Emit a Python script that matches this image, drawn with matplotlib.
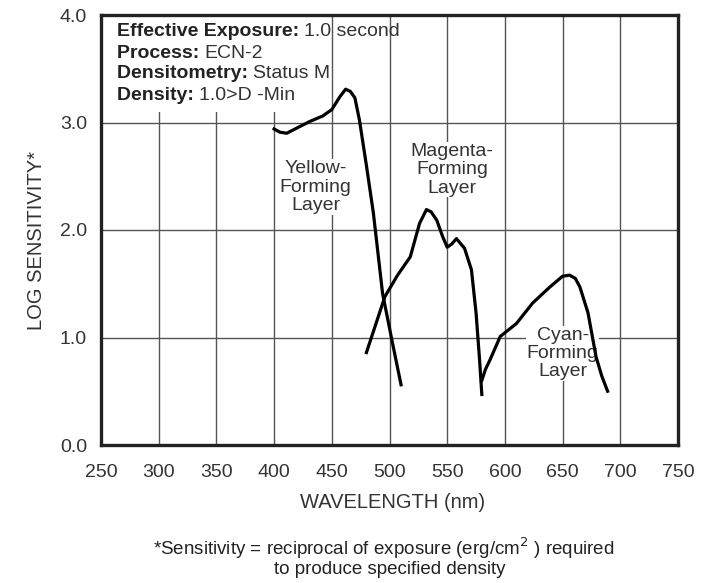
import matplotlib.pyplot as plt
from matplotlib.patches import Rectangle

plt.rcParams['font.family'] = ['Liberation Sans', 'DejaVu Sans']

# --- DATA ---
yellow_nm = [400, 405, 411, 420, 431, 442, 450, 457, 462, 466, 470, 474, 480, 486, 494, 502, 510]
yellow_log = [2.94, 2.91, 2.90, 2.95, 3.01, 3.06, 3.12, 3.24, 3.31, 3.29, 3.23, 3.02, 2.60, 2.16, 1.41, 0.98, 0.56]

magenta_nm = [480, 488, 496, 507, 518, 526, 532, 536, 541, 546, 550, 554, 558, 565, 571, 575, 578, 580]
magenta_log = [0.86, 1.12, 1.38, 1.58, 1.75, 2.06, 2.19, 2.17, 2.09, 1.94, 1.84, 1.87, 1.92, 1.83, 1.63, 1.23, 0.80, 0.47]

cyan_nm = [580, 583, 587, 596, 610, 624, 639, 650, 656, 661, 665, 672, 679, 684, 689]
cyan_log = [0.60, 0.70, 0.79, 1.01, 1.13, 1.32, 1.47, 1.57, 1.58, 1.55, 1.47, 1.23, 0.82, 0.64, 0.50]

x_ticks = [250, 300, 350, 400, 450, 500, 550, 600, 650, 700, 750]
y_ticks = [0.0, 1.0, 2.0, 3.0, 4.0]

info_bold = ['Effective Exposure:', 'Process:', 'Densitometry:', 'Density:']
info_value = ['1.0 second', 'ECN-2', 'Status M', '1.0>D -Min']

fig = plt.figure(figsize=(7.13, 5.83), dpi=100)
ax = fig.add_axes([101 / 713, 1 - 445 / 583, 577 / 713, 430 / 583])

ax.set_xlim(250, 750)
ax.set_ylim(0, 4)
ax.set_xticks(x_ticks)
ax.set_yticks(y_ticks)
ax.set_yticklabels([f'{v:.1f}' for v in y_ticks])
ax.tick_params(length=0, labelsize=14, colors='#333333')
ax.tick_params(axis='x', pad=14)
ax.tick_params(axis='y', pad=10)
ax.grid(True, color='#555555', linewidth=1.0)
ax.set_axisbelow(True)
for s in ax.spines.values():
    s.set_linewidth(2.4)
    s.set_color('#222222')

# white box behind the info text (hides grid there)
ax.add_patch(Rectangle((251, 3.1), 196, 0.89, facecolor='white', edgecolor='none', zorder=1))

# curves
for xs, ys in [(yellow_nm, yellow_log), (magenta_nm, magenta_log), (cyan_nm, cyan_log)]:
    ax.plot(xs, ys, color='black', linewidth=2.3, zorder=3)

# curve labels
lbl = dict(ha='center', va='center', fontsize=14, color='#333333', linespacing=1.1,
           bbox=dict(facecolor='white', edgecolor='none', pad=0.5), zorder=2)
ax.text(436, 2.40, 'Yellow-\nForming\nLayer', **lbl)
ax.text(554, 2.56, 'Magenta-\nForming\nLayer', **lbl)
ax.text(650, 0.85, 'Cyan-\nForming\nLayer', **lbl)

# info block (bold key + regular value)
y0 = [32, 53, 74, 96]
for k, v, py in zip(info_bold, info_value, y0):
    t = fig.text(117 / 713, 1 - py / 583, k + ' ', fontsize=14, fontweight='bold',
                 color='#222222', va='center', ha='left', zorder=5)
    fig.canvas.draw()
    bb = t.get_window_extent()
    fig.text(bb.x1 / fig.bbox.width, 1 - py / 583, v, fontsize=14, color='#333333',
             va='center', ha='left', zorder=5)

# axis labels
fig.text(37 / 713, 1 - 240 / 583, 'LOG SENSITIVITY*', rotation=90, ha='center', va='center',
         fontsize=14.5, color='#333333')
fig.text(393 / 713, 1 - 503 / 583, 'WAVELENGTH (nm)', ha='center', va='center',
         fontsize=14.5, color='#333333')

# footnote
fig.text(384 / 713, 1 - 548 / 583, r'*Sensitivity = reciprocal of exposure (erg/cm$^{2}$ ) required',
         ha='center', va='center', fontsize=13.5, color='#222222')
fig.text(390 / 713, 1 - 569 / 583, 'to produce specified density',
         ha='center', va='center', fontsize=13.5, color='#222222')

fig.savefig('out.png', dpi=100)
